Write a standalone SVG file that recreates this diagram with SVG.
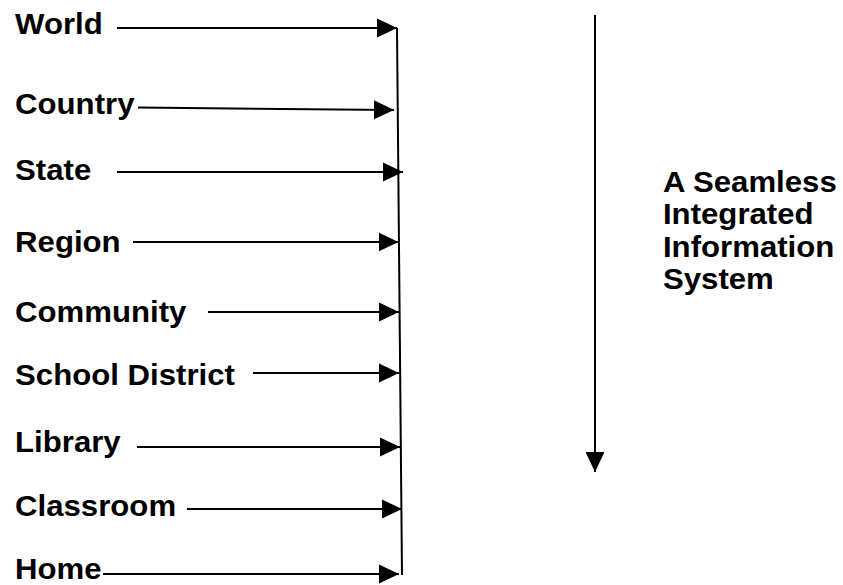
<svg xmlns="http://www.w3.org/2000/svg" width="843" height="585" viewBox="0 0 843 585">
  <style>
    .lbl { font-family: "Liberation Sans", Arial, Helvetica, sans-serif; font-weight: bold; font-size: 29px; fill: #000; }
    .conn { stroke: #000; stroke-width: 2; fill: none; }
  </style>
  <defs>
    <marker id="head" markerUnits="userSpaceOnUse" markerWidth="20" markerHeight="20" refX="20" refY="10" orient="auto">
      <path d="M0,0.5 L20,10 L0,19.5 Z" fill="#000"/>
    </marker>
  </defs>
  <rect width="843" height="585" fill="#fff"/>

  <!-- level labels (text slightly widened horizontally) -->
  <g transform="scale(1.075 1)">
    <g id="world"><text class="lbl" x="14" y="34">World</text></g>
    <g id="country"><text class="lbl" x="14" y="114">Country</text></g>
    <g id="state"><text class="lbl" x="14" y="180">State</text></g>
    <g id="region"><text class="lbl" x="14" y="252">Region</text></g>
    <g id="community"><text class="lbl" x="14" y="322">Community</text></g>
    <g id="school-district"><text class="lbl" x="14" y="385">School District</text></g>
    <g id="library"><text class="lbl" x="14" y="452">Library</text></g>
    <g id="classroom"><text class="lbl" x="14" y="516">Classroom</text></g>
    <g id="home"><text class="lbl" x="14" y="579">Home</text></g>
    <g id="system">
      <text class="lbl" x="616.7" y="192">A Seamless</text>
      <text class="lbl" x="616.7" y="224.5">Integrated</text>
      <text class="lbl" x="616.7" y="257">Information</text>
      <text class="lbl" x="616.7" y="289.5">System</text>
    </g>
  </g>

  <!-- connectors -->
  <g id="connectors">
    <line class="conn" x1="397" y1="28" x2="402" y2="575"/>
    <line class="conn" x1="117" y1="28" x2="397" y2="28" marker-end="url(#head)"/>
    <line class="conn" x1="138" y1="107.5" x2="394" y2="110" marker-end="url(#head)"/>
    <line class="conn" x1="117" y1="172" x2="403" y2="172" marker-end="url(#head)"/>
    <line class="conn" x1="133" y1="242" x2="398.5" y2="242" marker-end="url(#head)"/>
    <line class="conn" x1="208" y1="312" x2="399" y2="312" marker-end="url(#head)"/>
    <line class="conn" x1="253" y1="373" x2="399" y2="373" marker-end="url(#head)"/>
    <line class="conn" x1="137" y1="447" x2="400" y2="447" marker-end="url(#head)"/>
    <line class="conn" x1="187" y1="509" x2="402" y2="509" marker-end="url(#head)"/>
    <line class="conn" x1="103" y1="574" x2="399" y2="574" marker-end="url(#head)"/>
    <line class="conn" x1="595" y1="15" x2="595" y2="472" marker-end="url(#head)"/>
  </g>
</svg>
